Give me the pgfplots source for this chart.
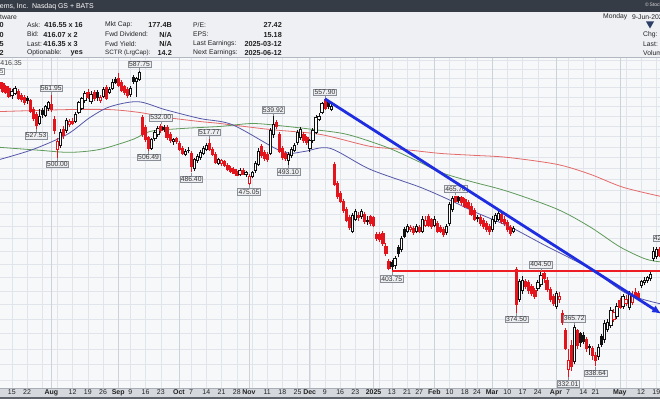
\documentclass[border=0pt]{standalone}
\usepackage{pgfplots}
\usepackage{pgfplotstable}
\pgfplotsset{compat=1.18}
\usepackage{fontspec}
\setmainfont{Liberation Sans}
\usetikzlibrary{arrows.meta}
\definecolor{headbg}{HTML}{363C46}
\definecolor{infobg}{HTML}{EEF0F4}
\definecolor{sepc}{HTML}{B3B7BF}
\definecolor{plotbg}{HTML}{F7F8FA}
\definecolor{gridc}{HTML}{E1E4EA}
\definecolor{gridd}{HTML}{CDD1D8}
\definecolor{stripbg}{HTML}{D5D8DD}
\definecolor{stripln}{HTML}{A9ADB5}
\definecolor{botln}{HTML}{5E636C}
\definecolor{cred}{HTML}{E3141C}
\definecolor{cblk}{HTML}{111111}
\definecolor{mablue}{HTML}{5558A8}
\definecolor{magreen}{HTML}{5E9A5A}
\definecolor{mared}{HTML}{E46A6A}
\definecolor{trendc}{HTML}{1E2DE0}
\definecolor{hlinec}{HTML}{EE1D23}
\definecolor{lblfill}{HTML}{EDEEF1}
\definecolor{lbldraw}{HTML}{8A8E96}
\definecolor{txt}{HTML}{222222}
\definecolor{tri}{HTML}{2C3E66}

\pgfplotstableread{
x o h l c
-4 576 578 567 569
-3 574 576 564 566
-2 571 573 563 565
-1 569 571 559 561
0 562 568 558 566
1 564 571 562 569
2 566 568 557 559
3 562 564 555 557
4 560 562 552 554
5 559 561 553 556
6 556 558 543 545
7 547 549 535 538
8 542 544 527.53 531
9 533 547 531 540
10 546 548 538 542
11 541 552 539 550
12 548 556 545 554
13 552 561.95 544 547
14 537 540 522 526
15 508 519 500.00 515
16 512 527 509 524
17 527 530 518 521
18 526 538 523 536
19 532 537 529 535
20 535 538 531 533
21 535 544 533 542
22 544 556 542 554
23 548 560 546 558
24 556 566 554 564
25 565 568 558 560
26 555 566 553 563
27 565 567 556 558
28 565 567 556 559.5
29 556 562 554 559
30 561 570 559 568
31 570 572 557 559
32 565 570 563 568
33 569 579 567 575
34 579 581 574 576
35 580 585 570 572
36 576 578 565 567
37 571 573 562 565
38 568 570 559 562
39 563 571 560 569
40 581 583 574 577
41 576 581 560 580
42 579 587.75 577 586
43 539 541 520 522
44 529 531 515 517
45 519 521 506.49 509
46 509 519 507 517
47 518 526 516 524
48 522 530 520 528
49 530 532.00 523 526
50 529 531 524 527
51 529 531 517 519
52 522 524 514 516
53 515 519 512 517
54 518 520 513 515
55 514 516 506 508
56 509 511 502 504
57 503 508 501 506
58 507 510 504 506.5
59 504 506 486.40 492
60 490 500 488 498
61 497 503 495 501
62 500 507 498 505
63 504 511 502 509
64 508 514 506 512
65 514 517.77 506 508
66 508 510 501 503
67 503 505 494 496
68 495 500 493 498
69 495 499 492 497
70 497 498 491 493
71 493 495 488 489
72 490 492 486 487.5
73 489 491 485 486
74 487 489 483 484
75 485 490 483 488
76 488 490 484 485
77 485 488 482 486.5
78 476.5 485 475.05 483
79 483 488 481 486
80 488 497 486 495
81 494 509 492 506
82 511 513 500 502
83 505 507 497 499
84 503 505 496 498
85 504 528 502 526
86 522 539.92 519 532
87 534 536 527 530
88 522 524 504 506
89 509 511 498 500
90 504 506 497 499.5
91 497 505 493.10 503
92 502 510 500 508
93 507 514 505 512
94 514 526 512 524
95 519 529 517 527
96 522 524 514 516
97 519 521 512 514.5
98 509 518 505 516
99 516 528 514 526
100 524 541 522 539
101 537 543 535 540
102 544 555 542 553
103 557 557.90 546 548
104 554 556 547 550
105 547 553 545 550.5
106 494 496 474 476
107 477 479 463 465
108 468 470 459 461
109 461 463 451 453
110 454 456 443 445
111 447 449 437 439
112 436 451 434 449
113 446 454 444 452
114 449 452 444 447
115 448 454 446 452
116 450 452 442 444
117 445 448 441 444
118 448 449 440 442
119 447 448 439 441
120 433 435 428 430
121 433 435 427 429
122 434 436 424 426
123 424 426 416 418
124 412 414 405 407
125 411 413 403.75 408
126 409 416 406 414
127 423 425 415 418
128 421 432 419 430
129 437 439 430 432
130 436 442 434 440
131 437 441 435 439
132 438 440 433 435
133 436 442 434 440
134 439 441 434 436
135 436 448 434 446
136 441 448 439 445
137 448 450 439 441
138 446 447 438 440
139 441 448 439 446
140 442 444 434 436
141 439 441 434 435.5
142 437 439 431 433
143 435 442 433 440
144 442 460 440 458
145 454 465 452 463
146 465 465.70 459 461
147 464 465 459 462
148 464 465.5 458 460
149 463 464 455 457
150 460 462 454 456
151 457 459 448 450
152 453 455 444 446
153 447 449 443 446.5
154 447 449 440 442
155 445 447 438 440
156 442 444 435 437
157 440 442 433 435.5
158 437 448 435 446
159 444 451 442 449
160 446 453 444 451
161 450 452 442 444
162 446 448 440 442
163 443 445 435 437
164 439 441 432 434
165 436 440 434 438
166 406 408 374.50 380
167 384 399 382 397
168 390 401 388 398
169 397 399 391 393
170 396 398 388 390
171 393 395 386 388
172 390 392 384 386
173 392 398 390 396
174 395 404.50 393 401
175 403 403.5 396 399
176 398 400 389 391
177 391 393 382 384
178 386 388 379 381
179 379 390 377 388
180 384 389 381 386
181 374 376 366 368
182 362 364 349 350
183 337 350 332.01 342.5
184 352 356 336 339
185 342 365.72 340 364
186 362 363 350 352
187 360 361 351 354
188 359 361 353 355
189 356 358 348 350
190 351.5 353 346 351
191 350 352 343 345.5
192 346 348 338.64 342.5
193 345 353 343 351
194 358 360 351 353
195 356 369 354 367
196 363 370 361 368
197 366 378 364 376
198 370 377 368 375
199 372 381 370 379
200 383 385 377 378.5
201 379 388 377 386
202 381 387 379 384
203 378 390 376 388
204 382 390 380 387
205 389 392 384 386
206 388 390 383 385
207 394 398 392 397
208 396 400 394 398
209 398 401 396 400
210 399 404 397 402
211 414 423 412 420
212 416 423 414 421
213 421 423 415 417
}\ohlc

\tikzset{
  wick0/.style={draw=cred, line width=0.6bp},
  wick1/.style={draw=cblk, line width=0.6bp},
  body00/.style={draw=cred, fill=cred, line width=0.5bp},
  body01/.style={draw=cred, fill=white, line width=0.6bp},
  body10/.style={draw=cblk, fill=cblk, line width=0.5bp},
  body11/.style={draw=cblk, fill=white, line width=0.6bp},
  lab/.style={draw=lbldraw, fill=lblfill, line width=0.4bp, inner sep=0.9bp,
     font=\fontsize{6.8}{7.5}\selectfont, text=black!80},
  info/.style={font=\fontsize{6.8}{8}\selectfont, text=txt, inner sep=0pt},
  infob/.style={font=\fontsize{7.3}{8}\selectfont\bfseries, text=txt, inner sep=0pt},
}
\newcommand{\labup}[2]{\node[inner sep=0pt, minimum size=0pt, pin={[lab, pin distance=3bp, pin edge={lbldraw, line width=0.4bp}]90:#2}] at (axis cs:#1,#2) {};}
\newcommand{\labdn}[2]{\node[inner sep=0pt, minimum size=0pt, pin={[lab, pin distance=3bp, pin edge={lbldraw, line width=0.4bp}]270:#2}] at (axis cs:#1,#2) {};}

\begin{document}
\begin{tikzpicture}
\useasboundingbox (0bp,0bp) rectangle (660bp,399bp);
\clip (0bp,0bp) rectangle (660bp,399bp);
\begin{scope}[x=1bp,y=1bp]
\fill[headbg] (0,386.5) rectangle (660,399);
\fill[infobg] (0,342) rectangle (660,386.5);
\fill[sepc] (0,340.5) rectangle (660,342);
\fill[stripbg] (0,2) rectangle (660,11);
\fill[botln] (0,0) rectangle (660,2);
\end{scope}

\begin{axis}[
  at={(0bp,11bp)}, anchor=south west,
  width=660bp, height=329.5bp, scale only axis,
  ymode=log,
  xmin=-3.882, xmax=213.22, ymin=325.3, ymax=601.6,
  clip=false,
  axis background/.style={fill=plotbg},
  axis line style={draw=none},
  major tick length=0pt, minor tick length=0pt,
  ytick={330,340,...,600}, yticklabels={},
  xtick={0,5,13,20,25,30,35,39,44,49,55,59,64,69,74,78,84,89,94,98,103,108,113,119,125,130,134,139,144,149,153,158,163,168,173,179,183,188,192,200,207,212},
  xticklabels={15,22,\textbf{Aug},12,19,26,\textbf{Sep},9,16,23,\textbf{Oct},7,14,21,28,\textbf{Nov},11,18,25,\textbf{Dec},9,16,23,\textbf{2025},13,21,27,\textbf{Feb},10,18,24,\textbf{Mar},10,17,24,\textbf{Apr},7,14,21,\textbf{May},12,19},
  minor xtick={10,15,79,121,202},
  xticklabel style={font=\fontsize{7}{8}\selectfont, text=txt, inner sep=1.5bp},
  grid=both,
  major grid style={draw=gridc, line width=0.45bp},
  minor grid style={draw=gridc, line width=0.45bp},
  extra x ticks={13,35,55,78,98,119,139,158,179,200},
  extra x tick labels={},
  extra x tick style={major grid style={draw=gridd, line width=0.5bp}},
]
\addplot[mared, line width=0.8bp, smooth] coordinates {
(-3.88,544.8) (18.2,546.8) (32.3,546.8) (42.2,543.8) (51.1,538.8) (61.9,534.8) (68.5,532.8) (84.9,526.9) (101.4,522.1) (117.8,510.6) (128.7,507.7) (140.9,503.9) (151.7,502.1) (162.9,500.2) (179.3,493.7) (190.2,484.7) (201,473.1) (213.2,465.2)};
\addplot[magreen, line width=0.8bp, smooth] coordinates {
(-3.88,509.6) (9.3,506.8) (19.1,504.9) (29,507.7) (39.9,517.3) (45.5,525.0) (56.3,527.9) (68.5,529.9) (79.3,532.8) (90.5,529.9) (99.1,526.9) (110.3,522.1) (123.4,509.6) (134.3,495.6) (140.9,486.5) (150.7,478.4) (162.9,469.6) (179.3,454.2) (190.2,439.3) (200,423.3) (208.3,413.9) (213.2,411.6)};
\addplot[mablue, line width=0.8bp, smooth] coordinates {
(-3.88,498.3) (7,507.7) (18.2,522.1) (25.7,538.8) (32.3,549.8) (41.5,555.0) (50.4,546.8) (61.9,537.8) (72.4,531.8) (86.6,508.7) (91.5,504.0) (96.4,505.8) (104.7,508.7) (117.8,489.2) (134.3,473.1) (144.8,461.0) (152.4,451.6) (163.9,439.3) (175.4,424.4) (190.2,406.3) (202.4,387.8) (213.2,380.7)};
\pgfplotstablegetrowsof{\ohlc}
\pgfmathtruncatemacro\nrows{\pgfplotsretval-1}
\def\prevc{580}
\pgfplotsforeachungrouped \i in {0,...,\nrows}{%
  \pgfplotstablegetelem{\i}{x}\of\ohlc \let\cx\pgfplotsretval
  \pgfplotstablegetelem{\i}{o}\of\ohlc \let\co\pgfplotsretval
  \pgfplotstablegetelem{\i}{h}\of\ohlc \let\ch\pgfplotsretval
  \pgfplotstablegetelem{\i}{l}\of\ohlc \let\cl\pgfplotsretval
  \pgfplotstablegetelem{\i}{c}\of\ohlc \let\cc\pgfplotsretval
  \pgfmathtruncatemacro\up{1-(\cc<\prevc)}
  \pgfmathtruncatemacro\hol{1-(\cc<\co)}
  \pgfmathsetmacro\xa{\cx-0.37}
  \pgfmathsetmacro\xb{\cx+0.37}
  \edef\tmp{\noexpand\addplot[wick\up] coordinates {(\cx,\cl) (\cx,\ch)};
    \noexpand\addplot[body\up\hol] coordinates {(\xa,\co) (\xb,\co) (\xb,\cc) (\xa,\cc)} -- cycle;}
  \tmp
  \let\prevc\cc
}
\addplot[hlinec, line width=2bp] coordinates {(125,404.3) (214,404.3)};
\labup{13}{561.95}
\labup{42}{587.75}
\labup{49}{532.00}
\labup{65}{517.77}
\labup{86}{539.92}
\labup{103}{557.90}
\labup{146}{465.70}
\labup{174}{404.50}
\labup{185}{365.72}
\labup{214.6}{424.85}
\labdn{8}{527.53}
\labdn{15}{500.00}
\labdn{45}{506.49}
\labdn{59}{486.40}
\labdn{78}{475.05}
\labdn{91}{493.10}
\labdn{125}{403.75}
\labdn{166}{374.50}
\labdn{183}{332.01}
\labdn{192}{338.64}
\addplot[trendc, line width=2.8bp, -{Latex[length=9bp,width=8bp]}] coordinates {(103,557.9) (213.6,373.6)};
\end{axis}

\begin{scope}[x=1bp,y=1bp]
\draw[stripln, line width=0.6bp] (0,11) -- (660,11);
\node[anchor=east, font=\fontsize{7}{8}\selectfont, text=white, inner sep=0pt] at (94,392.5) {Adobe Systems, Inc.\ \ Nasdaq GS + BATS};
\node[anchor=west, font=\fontsize{5}{6}\selectfont, text=white!85!black, inner sep=0pt] at (645,394) {\textcopyright\,StockCharts.com};
\node[info, anchor=east] at (17,382) {Software};
\node[infob, anchor=west] at (-0.5,374) {0};
\node[infob, anchor=west] at (-0.5,364.5) {0};
\node[infob, anchor=west] at (-0.5,355) {5};
\node[infob, anchor=west] at (-0.5,346) {2};
\node[info, anchor=west] at (27,374) {Ask:};
\node[info, anchor=west] at (27,364.5) {Bid:};
\node[info, anchor=west] at (27,355) {Last:};
\node[info, anchor=west] at (27,346) {Optionable:};
\node[infob, anchor=east] at (83,374) {416.55 x 16};
\node[infob, anchor=east] at (78,364.5) {416.07 x 2};
\node[infob, anchor=east] at (78,355) {416.35 x 3};
\node[infob, anchor=east] at (83,346) {yes};
\node[info, anchor=west] at (105,374) {Mkt Cap:};
\node[info, anchor=west] at (105,364.5) {Fwd Dividend:};
\node[info, anchor=west] at (105,355) {Fwd Yield:};
\node[info, anchor=west, font=\fontsize{6.3}{8}\selectfont] at (105,346) {SCTR (LrgCap):};
\node[infob, anchor=east] at (172,374) {177.4B};
\node[infob, anchor=east] at (172,364.5) {N/A};
\node[infob, anchor=east] at (172,355) {N/A};
\node[infob, anchor=east] at (172,346) {14.2};
\node[info, anchor=west] at (193,374) {P/E:};
\node[info, anchor=west] at (193,364.5) {EPS:};
\node[info, anchor=west] at (193,355) {Last Earnings:};
\node[info, anchor=west] at (193,346) {Next Earnings:};
\node[infob, anchor=east] at (282,374) {27.42};
\node[infob, anchor=east] at (282,364.5) {15.18};
\node[infob, anchor=east] at (282,355) {2025-03-12};
\node[infob, anchor=east] at (282,346) {2025-06-12};
\node[info, anchor=west] at (603,382) {Monday};
\node[info, anchor=west] at (632,382) {9-Jun-2025};
\fill[tri] (646,377.5) -- (654,377.5) -- (650,370.5) -- cycle;
\node[info, anchor=west] at (643,364.5) {Chg:};
\node[info, anchor=west] at (643,355) {Last:};
\node[info, anchor=west] at (643,346) {Volume:};
\node[anchor=east, font=\fontsize{7}{8}\selectfont, text=black!75, inner sep=0pt] at (22,336) {416.35};
\node[anchor=east, draw=lbldraw, fill=white, font=\fontsize{6}{7}\selectfont, text=black!75, inner sep=0.8bp] at (4.5,328) {5};
\end{scope}
\end{tikzpicture}
\end{document}
